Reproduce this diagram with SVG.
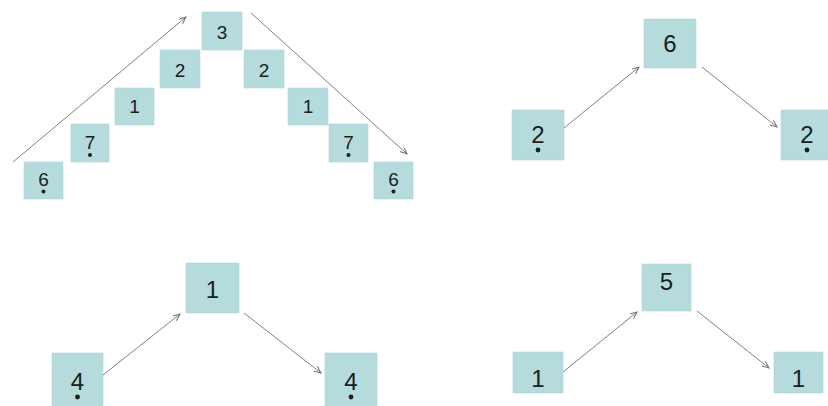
<svg xmlns="http://www.w3.org/2000/svg" width="828" height="406" viewBox="0 0 828 406">
<style>
.box{fill:#b5dbdd;stroke:#a9d0d3;stroke-width:0.5}
.t{font-family:"Liberation Sans",Arial,sans-serif;fill:#1a2020;text-anchor:middle}
.s{font-size:19px}
.l{font-size:24px}
.dot{fill:#1a2020}
.c{stroke:#808080;stroke-width:1;fill:none;marker-end:url(#ah)}
</style>
<defs>
<marker id="ah" markerUnits="userSpaceOnUse" markerWidth="10" markerHeight="10" refX="7" refY="3" orient="auto">
<path d="M0,0 L7,3 L0,6" fill="none" stroke="#707070" stroke-width="1"/>
</marker>
</defs>
<rect width="828" height="406" fill="#ffffff"/>
<g id="connectors">
<line class="c" x1="13" y1="162" x2="186" y2="17"/>
<line class="c" x1="251" y1="13" x2="407" y2="154"/>
<line class="c" x1="564" y1="128" x2="639" y2="67"/>
<line class="c" x1="702" y1="67" x2="777" y2="127"/>
<line class="c" x1="103" y1="375" x2="180" y2="314"/>
<line class="c" x1="244" y1="313" x2="321" y2="373"/>
<line class="c" x1="563" y1="372" x2="637" y2="312"/>
<line class="c" x1="697" y1="311" x2="769" y2="368"/>
</g>
<g id="tl-6a"><rect class="box" x="24" y="162" width="39" height="37"/><text class="t s" x="43.5" y="186">6</text><circle class="dot" cx="43.5" cy="191.5" r="2"/></g>
<g id="tl-7a"><rect class="box" x="71" y="124" width="38" height="38"/><text class="t s" x="90" y="149">7</text><circle class="dot" cx="90" cy="155" r="2"/></g>
<g id="tl-1a"><rect class="box" x="115" y="88" width="39" height="37"/><text class="t s" x="134.5" y="113">1</text></g>
<g id="tl-2a"><rect class="box" x="160" y="50" width="40" height="38"/><text class="t s" x="180" y="77">2</text></g>
<g id="tl-3"><rect class="box" x="202" y="12" width="40" height="38"/><text class="t s" x="222" y="39">3</text></g>
<g id="tl-2b"><rect class="box" x="244" y="50" width="40" height="38"/><text class="t s" x="264" y="77">2</text></g>
<g id="tl-1b"><rect class="box" x="288" y="88" width="40" height="37"/><text class="t s" x="308" y="113">1</text></g>
<g id="tl-7b"><rect class="box" x="329" y="124" width="39" height="38"/><text class="t s" x="348.5" y="149">7</text><circle class="dot" cx="348.5" cy="155" r="2"/></g>
<g id="tl-6b"><rect class="box" x="374" y="162" width="39" height="37"/><text class="t s" x="393.5" y="186">6</text><circle class="dot" cx="393.5" cy="191.5" r="2"/></g>
<g id="tr-2a"><rect class="box" x="512" y="110" width="52" height="50"/><text class="t l" x="538" y="143">2</text><circle class="dot" cx="538" cy="150" r="2.4"/></g>
<g id="tr-6"><rect class="box" x="644" y="19" width="52" height="49"/><text class="t l" x="670" y="52">6</text></g>
<g id="tr-2b"><rect class="box" x="781" y="110" width="52" height="50"/><text class="t l" x="807" y="143">2</text><circle class="dot" cx="807" cy="150" r="2.4"/></g>
<g id="bl-4a"><rect class="box" x="52" y="353" width="51" height="55"/><text class="t l" x="77.5" y="390">4</text><circle class="dot" cx="77.5" cy="397" r="2.4"/></g>
<g id="bl-1"><rect class="box" x="186" y="263" width="53" height="50"/><text class="t l" x="212.5" y="298">1</text></g>
<g id="bl-4b"><rect class="box" x="325" y="353" width="52" height="55"/><text class="t l" x="351" y="390">4</text><circle class="dot" cx="351" cy="397" r="2.4"/></g>
<g id="br-1a"><rect class="box" x="513" y="352" width="50" height="41"/><text class="t l" x="538" y="387">1</text></g>
<g id="br-5"><rect class="box" x="642" y="264" width="49" height="47"/><text class="t l" x="666.5" y="290">5</text></g>
<g id="br-1b"><rect class="box" x="774" y="352" width="49" height="41"/><text class="t l" x="798.5" y="387">1</text></g>
</svg>
